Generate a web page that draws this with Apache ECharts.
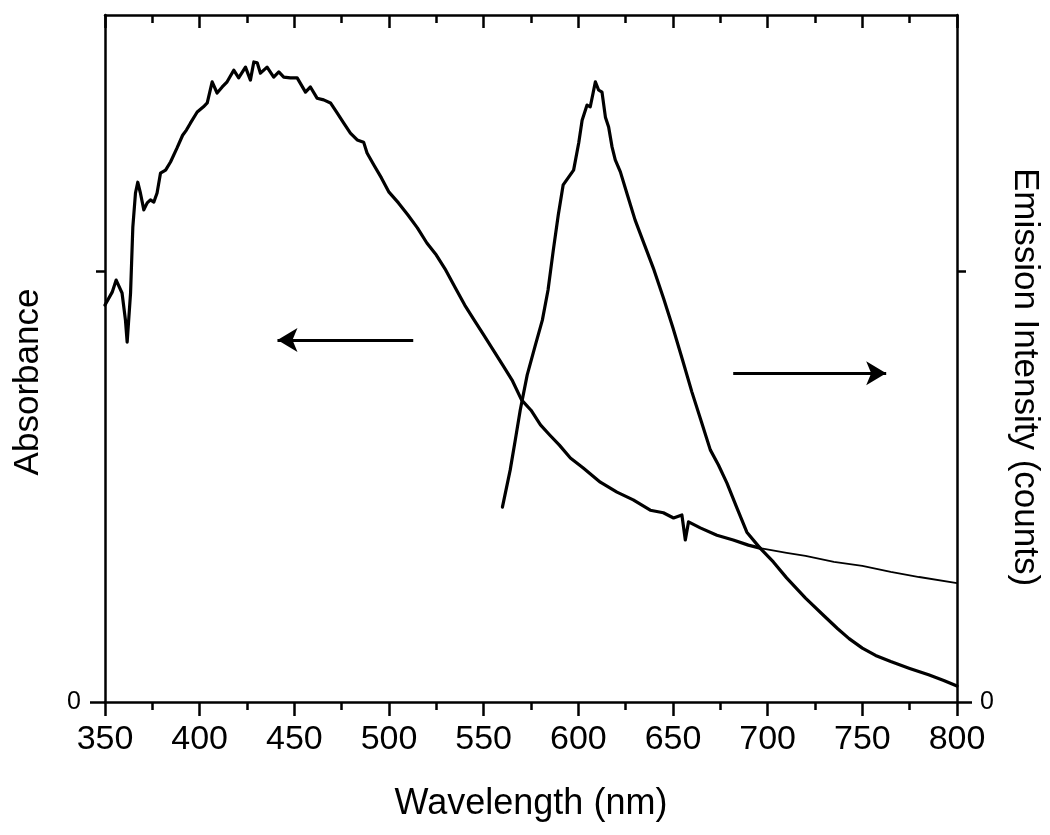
<!DOCTYPE html>
<html>
<head>
<meta charset="utf-8">
<script src="https://cdn.jsdelivr.net/npm/echarts@6/dist/echarts.min.js"></script>
<style>
html,body{margin:0;padding:0;background:#fff;}
#chart{width:1050px;height:835px;}
</style>
</head>
<body>
<div id="chart"></div>
<script>
// Wavelength tick labels (nm)
const xTicks = [350, 400, 450, 500, 550, 600, 650, 700, 750, 800];

// Absorbance (left axis, arbitrary units): [wavelength nm, value]
const absorbance = [
  [350,0.921],[353.8,0.951],[355.9,0.979],[359,0.949],[360.8,0.886],[361.7,0.835],
  [363.5,0.949],[364.7,1.102],[366.1,1.181],[367.3,1.206],[368.7,1.181],[370.5,1.142],
  [372.3,1.158],[374,1.165],[375.8,1.160],[377.5,1.181],[379.3,1.227],[382,1.234],
  [384.6,1.253],[388,1.285],[391,1.315],[393,1.327],[395.1,1.343],[398.7,1.369],
  [402,1.381],[404,1.390],[406.6,1.439],[409.2,1.413],[411.9,1.427],[414.5,1.439],
  [418,1.466],[420.6,1.448],[424.2,1.473],[426.8,1.443],[428.6,1.485],[430.4,1.483],
  [432.1,1.459],[435.6,1.473],[439.1,1.450],[441.8,1.462],[444.4,1.450],[447.9,1.448],
  [451.5,1.448],[455.9,1.415],[458.5,1.427],[462,1.401],[465.5,1.397],[469.1,1.390],
  [472.6,1.367],[476.1,1.343],[479.6,1.320],[483.2,1.304],[486.6,1.299],[488.4,1.274],
  [492,1.246],[496,1.216],[500,1.183],[505,1.158],[510,1.130],[515,1.100],[520,1.065],
  [525,1.037],[530,1.002],[535,0.961],[540,0.921],[545,0.886],[550,0.852],[555,0.817],
  [560,0.782],[565,0.747],[570,0.701],[575,0.677],[580,0.643],[585,0.619],[590,0.596],
  [595.8,0.566],[602.6,0.543],[611.6,0.510],[620.4,0.487],[629,0.469],[638,0.445],
  [644.9,0.439],[650.3,0.427],[654.7,0.434],[656.5,0.376],[658.2,0.418],[664.4,0.404],
  [673.2,0.387],[681.8,0.376],[689.8,0.364],[696,0.357],[710,0.346],[720,0.339],
  [735,0.325],[750,0.316],[765,0.302],[780,0.290],[800,0.276]
];

// Emission intensity (right axis, arbitrary units): [wavelength nm, value]
const emission = [
  [559.9,0.452],[564,0.538],[566.7,0.608],[569.3,0.677],[573,0.759],[577.3,0.828],
  [581,0.886],[584,0.956],[586.8,1.049],[589.4,1.130],[592,1.200],[597.5,1.234],
  [600.2,1.297],[602,1.350],[604.6,1.385],[606.3,1.381],[607.8,1.413],[609,1.439],
  [610.7,1.420],[612.5,1.415],[614.3,1.357],[616,1.334],[617.8,1.288],[619.5,1.258],
  [622.2,1.230],[626,1.175],[630,1.118],[635,1.060],[640,1.002],[645,0.937],[650,0.868],
  [655,0.794],[660,0.719],[665,0.650],[669.7,0.585],[674,0.550],[678.5,0.508],
  [683.8,0.450],[689,0.394],[696,0.357],[703,0.325],[710,0.288],[720,0.241],[730,0.199],
  [737,0.170],[743,0.147],[750,0.125],[757,0.108],[765,0.094],[775,0.078],[785,0.063],
  [793,0.050],[800,0.037]
];

// Direction arrows: [start, end] in [nm, value]
const arrowToAbsorbance = [[512.8,0.840],[441.1,0.840]];
const arrowToEmission = [[681.8,0.763],[762.6,0.763]];

const yMax = 1.594;
const font = 'Liberation Sans, Arial, Helvetica, sans-serif';

const absMain = absorbance.filter(p => p[0] <= 696);
const absTail = absorbance.filter(p => p[0] >= 696);

const chart = echarts.init(document.getElementById('chart'), null, {renderer:'canvas'});

const lineAxis = {onZero:false, lineStyle:{color:'#000', width:2.5}};

function zeroTickAxis(pos){
  return {
    type:'value', position:pos, min:0, max:yMax, interval:1,
    axisLine:{show:false, onZero:false},
    axisTick:{show:true, inside:false, length:15, customValues:[0], lineStyle:{color:'#000', width:2.5}},
    axisLabel:{show:false}, splitLine:{show:false}
  };
}

chart.setOption({
  animation:false,
  backgroundColor:'#fff',
  grid:{left:105, right:93, top:15, bottom:133},
  xAxis:[
    {
      type:'value', position:'bottom', min:350, max:800, interval:50,
      axisLine:lineAxis,
      axisTick:{show:true, inside:false, length:14, lineStyle:{color:'#000', width:2.5}},
      minorTick:{show:true, splitNumber:2, length:8, lineStyle:{color:'#000', width:2.5}},
      splitLine:{show:false}, minorSplitLine:{show:false},
      axisLabel:{color:'#000', fontSize:34, fontFamily:font, margin:21,
        formatter: v => xTicks.includes(v) ? String(v) : ''},
      name:'Wavelength (nm)', nameLocation:'middle', nameGap:84,
      nameTextStyle:{color:'#000', fontSize:36, fontFamily:font}
    },
    {
      type:'value', position:'top', min:350, max:800, interval:50,
      axisLine:lineAxis,
      axisTick:{show:true, inside:true, length:13, lineStyle:{color:'#000', width:2.5}},
      minorTick:{show:true, splitNumber:2, length:8, lineStyle:{color:'#000', width:2.5}},
      splitLine:{show:false},
      axisLabel:{show:false}
    }
  ],
  yAxis:[
    {
      type:'value', position:'left', min:0, max:yMax, interval:1,
      axisLine:lineAxis,
      axisTick:{show:true, inside:false, length:9, customValues:[1], lineStyle:{color:'#000', width:2.5}},
      splitLine:{show:false},
      axisLabel:{color:'#000', fontSize:25, fontFamily:font, margin:24, customValues:[0],
        formatter: v => v === 0 ? '0' : ''}
    },
    {
      type:'value', position:'right', min:0, max:yMax, interval:1,
      axisLine:lineAxis,
      axisTick:{show:true, inside:false, length:9, customValues:[1], lineStyle:{color:'#000', width:2.5}},
      splitLine:{show:false},
      axisLabel:{color:'#000', fontSize:25, fontFamily:font, margin:23, customValues:[0],
        formatter: v => v === 0 ? '0' : ''}
    },
    zeroTickAxis('left'),
    zeroTickAxis('right')
  ],
  graphic:[
    {type:'text', x:28, y:382, rotation:Math.PI/2,
      style:{text:'Absorbance', fill:'#000', font:'35px ' + font, textAlign:'center', textVerticalAlign:'middle'}},
    {type:'text', x:1025, y:377, rotation:-Math.PI/2,
      style:{text:'Emission Intensity (counts)', fill:'#000', font:'35px ' + font, textAlign:'center', textVerticalAlign:'middle'}}
  ],
  series:[
    {
      name:'Absorbance', type:'line', xAxisIndex:0, yAxisIndex:0,
      data:absMain, showSymbol:false, smooth:false,
      lineStyle:{color:'#000', width:3.2, join:'round', cap:'round'}, z:3,
      markLine:{
        silent:true, symbol:['none','arrow'], symbolSize:[18,20],
        label:{show:false},
        lineStyle:{color:'#000', width:3, type:'solid'},
        data:[
          [{coord:arrowToAbsorbance[0]},{coord:arrowToAbsorbance[1]}],
          [{coord:arrowToEmission[0]},{coord:arrowToEmission[1]}]
        ]
      }
    },
    {
      name:'Absorbance tail', type:'line', xAxisIndex:0, yAxisIndex:0,
      data:absTail, showSymbol:false, lineStyle:{color:'#000', width:1.8, join:'round'}, z:3
    },
    {
      name:'Emission', type:'line', xAxisIndex:0, yAxisIndex:1,
      data:emission, showSymbol:false, smooth:false,
      lineStyle:{color:'#000', width:3.2, join:'round', cap:'round'}, z:3
    }
  ]
});
</script>
</body>
</html>
